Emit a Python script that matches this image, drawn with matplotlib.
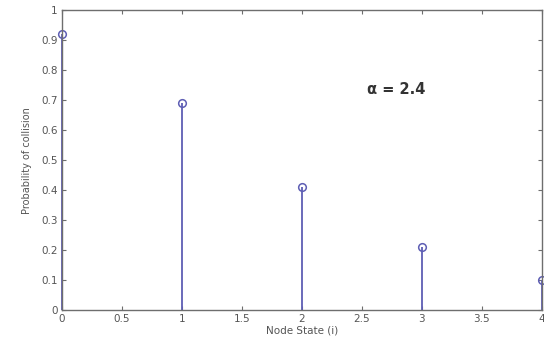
import matplotlib
matplotlib.use("Agg")
import matplotlib.pyplot as plt

# Collision probability per node state
node_state = [0, 1, 2, 3, 4]
p_collision = [0.92, 0.69, 0.41, 0.21, 0.10]
alpha_label = "α = 2.4"

x_ticks = [0, 0.5, 1, 1.5, 2, 2.5, 3, 3.5, 4]
x_tick_labels = ["0", "0.5", "1", "1.5", "2", "2.5", "3", "3.5", "4"]
y_ticks = [0, 0.1, 0.2, 0.3, 0.4, 0.5, 0.6, 0.7, 0.8, 0.9, 1]
y_tick_labels = ["0", "0.1", "0.2", "0.3", "0.4", "0.5", "0.6", "0.7", "0.8", "0.9", "1"]

stem_color = "#5e5eb4"
axis_color = "#6e6e6e"
text_color = "#555555"

fig = plt.figure(figsize=(5.44, 3.45), dpi=100)
ax = fig.add_axes([0.114, 0.101, 0.882, 0.870])

markerline, stemlines, baseline = ax.stem(node_state, p_collision, basefmt=" ")
plt.setp(stemlines, color=stem_color, linewidth=1.3)
plt.setp(markerline, marker="o", markersize=5.5, markerfacecolor="none",
         markeredgecolor=stem_color, markeredgewidth=1.1, clip_on=False)
stemlines.set_clip_on(False)

ax.set_xlim(0, 4)
ax.set_ylim(0, 1)
ax.set_xticks(x_ticks)
ax.set_xticklabels(x_tick_labels)
ax.set_yticks(y_ticks)
ax.set_yticklabels(y_tick_labels)

ax.tick_params(direction="in", length=3, width=0.8, colors=axis_color,
               labelcolor=text_color, labelsize=7.5, top=True, right=True, pad=3)
for s in ax.spines.values():
    s.set_color(axis_color)
    s.set_linewidth(1.0)

ax.set_xlabel("Node State (i)", fontsize=7.5, color=text_color, labelpad=1)
ax.set_ylabel("Probability of collision", fontsize=7, color=text_color, labelpad=7)

ax.text(2.54, 0.735, alpha_label, fontsize=10.5, fontweight="bold",
        color="#333333", va="center", ha="left")

fig.savefig("out.png", dpi=100, facecolor="white")
